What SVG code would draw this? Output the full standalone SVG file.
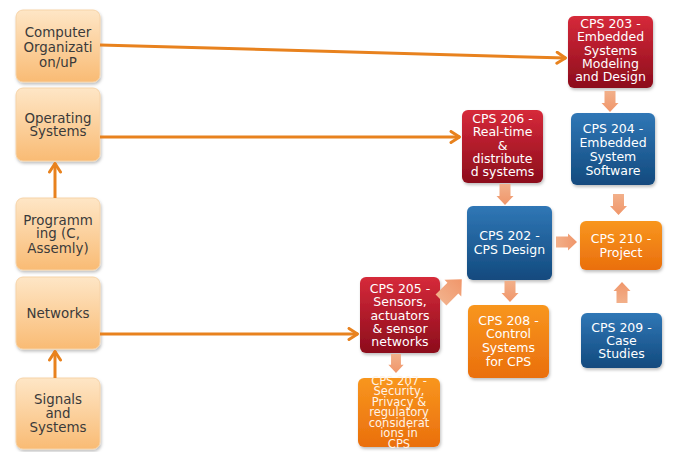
<svg xmlns="http://www.w3.org/2000/svg" xmlns:xlink="http://www.w3.org/1999/xlink" width="676" height="452" viewBox="0 0 676 452">
<defs>
<linearGradient id="gPeach" x1="0" y1="0" x2="0" y2="1"><stop offset="0" stop-color="#fee6c6"/><stop offset="1" stop-color="#f9bb74"/></linearGradient>
<linearGradient id="gRed" x1="0" y1="0" x2="0" y2="1"><stop offset="0" stop-color="#d62a3a"/><stop offset="1" stop-color="#8c0c1c"/></linearGradient>
<linearGradient id="gBlue" x1="0" y1="0" x2="0" y2="1"><stop offset="0" stop-color="#3077b6"/><stop offset="1" stop-color="#124a7e"/></linearGradient>
<linearGradient id="gOrange" x1="0" y1="0" x2="0" y2="1"><stop offset="0" stop-color="#f8961e"/><stop offset="1" stop-color="#ea6f0d"/></linearGradient>
<linearGradient id="gArrow" x1="0" y1="0" x2="1" y2="0"><stop offset="0" stop-color="#f2b08a"/><stop offset="1" stop-color="#f0966a"/></linearGradient>
<filter id="sh" x="-20%" y="-20%" width="140%" height="140%"><feDropShadow dx="1" dy="2" stdDeviation="1.5" flood-color="#000" flood-opacity="0.25"/></filter>
<marker id="chev" viewBox="0 0 12 14" refX="11" refY="7" markerWidth="12" markerHeight="14" markerUnits="userSpaceOnUse" orient="auto"><polyline points="2,1.5 10.5,7 2,12.5" fill="none" stroke="#e8821e" stroke-width="3" stroke-linecap="round" stroke-linejoin="round"/></marker>
<path id="ba" d="M0,-5.5 L12,-5.5 L12,-8.5 L21,0 L12,8.5 L12,5.5 L0,5.5 Z"/>
</defs>
<style>
.peach{fill:url(#gPeach);stroke:#f6d3a8;stroke-width:1;filter:url(#sh)}
.red{fill:url(#gRed);filter:url(#sh)}
.blue{fill:url(#gBlue);filter:url(#sh)}
.orange{fill:url(#gOrange);filter:url(#sh)}
.lt{font-family:"DejaVu Sans","Verdana",sans-serif;font-size:13.4px;fill:#3a3a3a;text-anchor:middle}
.wt{font-family:"DejaVu Sans","Verdana",sans-serif;font-size:12.5px;fill:#ffffff;text-anchor:middle}
.st{font-family:"DejaVu Sans","Verdana",sans-serif;font-size:11.5px;fill:#fff3e6;text-anchor:middle}
.line{fill:none;stroke:#e8821e;stroke-width:3;marker-end:url(#chev)}
.blk{fill:url(#gArrow)}
</style>
<rect width="676" height="452" fill="#ffffff"/>

<g id="n-comporg"><rect class="peach" x="16" y="10" width="84" height="72" rx="7"/>
<text class="lt" x="58" y="36.5">Computer</text><text class="lt" x="58" y="51.5">Organizati</text><text class="lt" x="58" y="66.5">on/uP</text></g>
<g id="n-os"><rect class="peach" x="16" y="88" width="84" height="73" rx="7"/>
<text class="lt" x="58" y="122.5">Operating</text><text class="lt" x="58" y="135.5">Systems</text></g>
<g id="n-prog"><rect class="peach" x="16" y="198" width="84" height="72" rx="7"/>
<text class="lt" x="58" y="224.5">Programm</text><text class="lt" x="58" y="238">ing (C,</text><text class="lt" x="58" y="252.5">Assemly)</text></g>
<g id="n-net"><rect class="peach" x="16" y="277" width="84" height="72" rx="7"/>
<text class="lt" x="58" y="317.5">Networks</text></g>
<g id="n-sig"><rect class="peach" x="16" y="378" width="84" height="71" rx="7"/>
<text class="lt" x="58" y="403.5">Signals</text><text class="lt" x="58" y="417.5">and</text><text class="lt" x="58" y="431.5">Systems</text></g>

<g id="n-203"><rect class="red" x="568" y="16" width="85" height="72" rx="6"/>
<text class="wt" x="610.5" y="27.5">CPS 203 -</text><text class="wt" x="610.5" y="41">Embedded</text><text class="wt" x="610.5" y="54.5">Systems</text><text class="wt" x="610.5" y="67.5">Modeling</text><text class="wt" x="610.5" y="81">and Design</text></g>
<g id="n-206"><rect class="red" x="462" y="110" width="81" height="73" rx="6"/>
<text class="wt" x="502.5" y="122.5">CPS 206 -</text><text class="wt" x="502.5" y="136">Real-time</text><text class="wt" x="502.5" y="149.5">&amp;</text><text class="wt" x="502.5" y="162.5">distribute</text><text class="wt" x="502.5" y="176">d systems</text></g>
<g id="n-204"><rect class="blue" x="571" y="113" width="84" height="72" rx="6"/>
<text class="wt" x="613" y="132.5">CPS 204 -</text><text class="wt" x="613" y="146.5">Embedded</text><text class="wt" x="613" y="160.5">System</text><text class="wt" x="613" y="174.5">Software</text></g>
<g id="n-202"><rect class="blue" x="467" y="206" width="85" height="74" rx="6"/>
<text class="wt" x="509.5" y="239.5">CPS 202 -</text><text class="wt" x="509.5" y="254">CPS Design</text></g>
<g id="n-210"><rect class="orange" x="580" y="221" width="82" height="49" rx="6"/>
<text class="wt" x="621" y="242.5">CPS 210 -</text><text class="wt" x="621" y="256.5">Project</text></g>
<g id="n-205"><rect class="red" x="360" y="277" width="80" height="76" rx="6"/>
<text class="wt" x="400" y="292.5">CPS 205 -</text><text class="wt" x="400" y="306">Sensors,</text><text class="wt" x="400" y="319.5">actuators</text><text class="wt" x="400" y="332.5">&amp; sensor</text><text class="wt" x="400" y="346">networks</text></g>
<g id="n-208"><rect class="orange" x="468" y="305" width="81" height="73" rx="6"/>
<text class="wt" x="508.5" y="324.5">CPS 208 -</text><text class="wt" x="508.5" y="338">Control</text><text class="wt" x="508.5" y="351.5">Systems</text><text class="wt" x="508.5" y="365.5">for CPS</text></g>
<g id="n-209"><rect class="blue" x="581" y="313" width="81" height="55" rx="6"/>
<text class="wt" x="621.5" y="331.5">CPS 209 -</text><text class="wt" x="621.5" y="344.5">Case</text><text class="wt" x="621.5" y="357.5">Studies</text></g>
<g id="n-207"><rect class="orange" x="358" y="378" width="82" height="69" rx="6"/>
<text class="st" x="399" y="384.5">CPS 207 -</text><text class="st" x="399" y="395">Security,</text><text class="st" x="399" y="405.5">Privacy &amp;</text><text class="st" x="399" y="416">regulatory</text><text class="st" x="399" y="426.5">considerat</text><text class="st" x="399" y="437">ions in</text><text class="st" x="399" y="447.5">CPS</text></g>

<g id="connectors">
<line class="line" x1="100" y1="45" x2="566" y2="58"/>
<line class="line" x1="100" y1="137" x2="460" y2="137"/>
<line class="line" x1="100" y1="334" x2="358" y2="334"/>
<line class="line" x1="55" y1="198" x2="55" y2="163"/>
<line class="line" x1="55" y1="378" x2="55" y2="351"/>
<use class="blk" href="#ba" transform="translate(610,91) rotate(90)"/>
<use class="blk" href="#ba" transform="translate(505,184) rotate(90)"/>
<use class="blk" href="#ba" transform="translate(618.5,194) rotate(90)"/>
<use class="blk" href="#ba" transform="translate(556,242)"/>
<use class="blk" href="#ba" transform="translate(622,303) rotate(-90)"/>
<use class="blk" href="#ba" transform="translate(510,281) rotate(90)"/>
<use class="blk" href="#ba" transform="translate(396,354) rotate(90) scale(0.9)"/>
<use class="blk" href="#ba" transform="translate(441,300) rotate(-45) scale(1.4)"/>
</g>
</svg>
